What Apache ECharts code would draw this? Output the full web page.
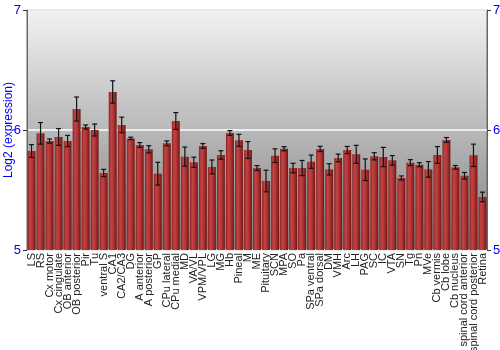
<!DOCTYPE html>
<html><head><meta charset="utf-8">
<script src="https://cdn.jsdelivr.net/npm/echarts@6/dist/echarts.min.js"></script>
<style>html,body{margin:0;padding:0;background:#fff}#c{width:500px;height:350px}</style>
</head><body><div id="c"></div>
<script>
var categories = ["LS","RS","Cx motor","Cx cingulate","OB anterior","OB posterior","Pir","Tu","ventral S","CA1","CA2/CA3","DG","A anterior","A posterior","GP","CPu lateral","CPu medial","MD","VA/VL","VPM/VPL","LG","MG","Hb","Pineal","M","ME","Pituitary","SCN","MPA","SO","Pa","SPa ventral","SPa dorsal","DM","VMH","Arc","LH","PAG","SC","IC","VTA","SN","Tg","Pn","MVe","Cb vermis","Cb lobe","Cb nucleus","spinal cord anterior","spinal cord posterior","Retina"];
var values = [5.825,5.972,5.908,5.942,5.908,6.175,6.025,6.0,5.642,6.317,6.042,5.93,5.875,5.839,5.636,5.889,6.075,5.778,5.731,5.867,5.692,5.792,5.975,5.914,5.833,5.683,5.575,5.786,5.844,5.683,5.683,5.736,5.842,5.672,5.767,5.833,5.797,5.669,5.781,5.775,5.747,5.6,5.728,5.711,5.672,5.792,5.917,5.689,5.619,5.789,5.442];
var errors = [0.053,0.09,0.017,0.07,0.047,0.1,0.017,0.05,0.03,0.093,0.065,0.01,0.02,0.03,0.095,0.02,0.07,0.08,0.043,0.02,0.058,0.035,0.02,0.05,0.07,0.02,0.09,0.057,0.017,0.04,0.063,0.055,0.022,0.047,0.032,0.03,0.075,0.09,0.03,0.08,0.04,0.017,0.025,0.017,0.065,0.07,0.02,0.015,0.027,0.093,0.04];
var yTicks = [5,6,7];

var errData = values.map(function(v,i){return [i, v-errors[i], v+errors[i]];});
var chart = echarts.init(document.getElementById('c'));
var font = '"Liberation Sans", Arial, sans-serif';
chart.setOption({
  animation:false,
  grid:{left:27,right:13,top:10,bottom:100,show:true,borderColor:'#666',borderWidth:1,
    containLabel:false,outerBoundsMode:'none',
    backgroundColor:{type:'linear',x:0,y:0,x2:0,y2:1,colorStops:[{offset:0,color:'#f2f2f2'},{offset:1,color:'#7f7f7f'}]}},
  xAxis:{type:'category',data:categories,
    axisLine:{show:false},axisTick:{show:false},
    axisLabel:{rotate:90,interval:0,fontSize:11,color:'#222',fontFamily:font,margin:3}},
  yAxis:[{type:'value',min:5,max:7,interval:1,position:'left',
    name:'Log2 (expression)',nameLocation:'middle',nameGap:12,nameMoveOverlap:false,
    nameTextStyle:{color:'#0000ff',fontSize:12,fontFamily:font},
    axisLine:{show:true,lineStyle:{color:'#666'}},
    axisTick:{show:true,length:4,lineStyle:{color:'#333'}},
    axisLabel:{color:'#0000ff',fontSize:13,fontFamily:font,margin:6,
      formatter:function(v){return yTicks.indexOf(v)>=0?String(v):'';}},
    splitLine:{show:true,lineStyle:{color:'#ffffff',width:1.5}}},
   {type:'value',min:5,max:7,interval:1,position:'right',
    axisLine:{show:true,lineStyle:{color:'#666'}},
    axisTick:{show:true,length:4,lineStyle:{color:'#333'}},
    axisLabel:{color:'#0000ff',fontSize:13,fontFamily:font,margin:6},
    splitLine:{show:false}}],
  series:[{type:'bar',data:values,barCategoryGap:'12%',
    itemStyle:{color:{type:'linear',x:0,y:0,x2:1,y2:0,colorStops:[
      {offset:0,color:'#8a2424'},{offset:0.3,color:'#c24444'},{offset:0.6,color:'#b33333'},{offset:1,color:'#6e1616'}]}}},
   {type:'custom',data:errData,z:10,
    renderItem:function(params,api){
      var x=api.value(0);
      var lo=api.coord([x,api.value(1)]);
      var hi=api.coord([x,api.value(2)]);
      var hw=2.5;
      var st={stroke:'#111',lineWidth:1.2};
      return {type:'group',children:[
        {type:'line',shape:{x1:hi[0],y1:hi[1],x2:lo[0],y2:lo[1]},style:st},
        {type:'line',shape:{x1:hi[0]-hw,y1:hi[1],x2:hi[0]+hw,y2:hi[1]},style:st},
        {type:'line',shape:{x1:lo[0]-hw,y1:lo[1],x2:lo[0]+hw,y2:lo[1]},style:st}]};
    }}]
});
</script></body></html>
